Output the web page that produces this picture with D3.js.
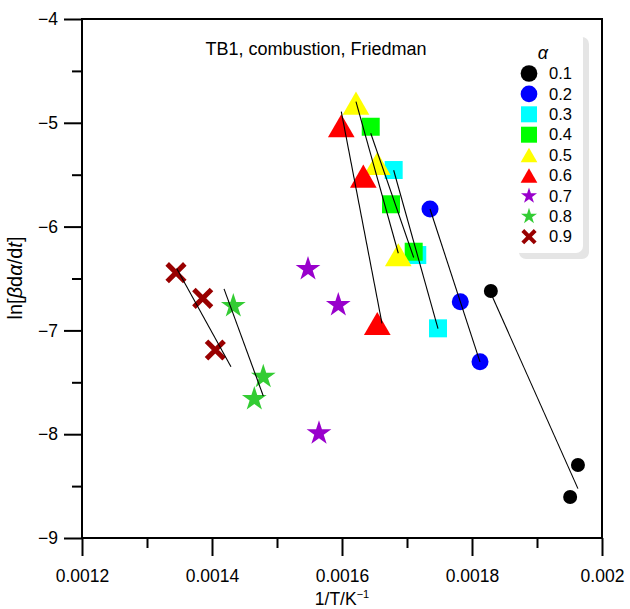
<!DOCTYPE html>
<html>
<head>
<meta charset="utf-8">
<script src="https://cdn.jsdelivr.net/npm/d3@7"></script>
<style>
  body { margin: 0; background: #fff; }
  svg { display: block; }
  text { font-family: "Liberation Sans", Arial, Helvetica, sans-serif; fill: #000; }
</style>
</head>
<body>
<svg id="chart" width="630" height="609"></svg>
<script>
// Conversion levels (alpha) and their Friedman points: 1/T (K^-1) vs ln[beta da/dt]
const alphaLevels = ["0.1", "0.2", "0.3", "0.4", "0.5", "0.6", "0.7", "0.8", "0.9"];
const invT = [
  [0.001829, 0.001963, 0.001951],
  [0.0017354, 0.001782, 0.0018123],
  [0.0016795, 0.0017158, 0.0017477],
  [0.0016442, 0.0016754, 0.0017103],
  [0.0016215, 0.0016543, 0.0016866],
  [0.0015989, 0.0016328, 0.0016543],
  [0.0015477, 0.0015943, 0.0015646],
  [0.0014328, 0.0014789, 0.0014651],
  [0.0013446, 0.0013857, 0.0014051]
];
const lnRate = [
  [-6.620, -8.297, -8.605],
  [-5.830, -6.724, -7.302],
  [-5.455, -6.274, -6.980],
  [-5.038, -5.785, -6.242],
  [-4.848, -5.429, -6.309],
  [-5.066, -5.551, -6.970],
  [-6.409, -6.755, -7.991],
  [-6.765, -7.446, -7.661],
  [-6.444, -6.691, -7.189]
];
// x-extent of each least-squares line (null: no fit drawn)
const fitRange = [
  [0.001829, 0.001963],
  [0.0017354, 0.0018123],
  [0.0016795, 0.0017477],
  [0.0016442, 0.0017103],
  [0.0016215, 0.0016866],
  [0.0015989, 0.0016615],
  null,
  [0.0014185, 0.0014789],
  [0.0013457, 0.0014292]
];
const seriesColors = ["#000000", "#0000ff", "#00ffff", "#00ff00", "#ffff00", "#ff0000", "#9900cc", "#33cc33", "#990000"];
const seriesShapes = ["circle", "circle", "square", "square", "triangle", "triangle", "star", "star", "times"];
const plotSizes = [154, 227, 324, 324, 308, 308, 190, 190, 204];
const legendSizes = [219, 219, 256, 256, 121, 121, 80, 80, 102];

const xMajor = [0.0012, 0.0014, 0.0016, 0.0018, 0.002];
const xMajorLabels = ["0.0012", "0.0014", "0.0016", "0.0018", "0.002"];
const xMinor = [0.0013, 0.0015, 0.0017, 0.0019];
const yMajor = [-9, -8, -7, -6, -5, -4];
const yMinor = [-8.5, -7.5, -6.5, -5.5, -4.5];

const symbolOf = { circle: d3.symbolCircle, square: d3.symbolSquare, triangle: d3.symbolTriangle, star: d3.symbolStar, times: d3.symbolTimes };

const svg = d3.select("#chart");
const plotL = 82, plotR = 602, plotT = 19, plotB = 538;
const x = d3.scaleLinear().domain([0.0012, 0.002]).range([plotL, plotR]);
const y = d3.scaleLinear().domain([-9, -4]).range([plotB, plotT]);

// axes
const fontSize = 17.5;
const xAxis = svg.append("g").attr("transform", `translate(0,${plotB})`)
  .call(d3.axisBottom(x).tickValues(xMajor).tickSize(18).tickPadding(14)
    .tickFormat((d, i) => xMajorLabels[i]));
const xMinorAxis = svg.append("g").attr("transform", `translate(0,${plotB})`)
  .call(d3.axisBottom(x).tickValues(xMinor).tickSize(10).tickFormat(""));
const yAxis = svg.append("g").attr("transform", `translate(${plotL},0)`)
  .call(d3.axisLeft(y).tickValues(yMajor).tickSize(18).tickPadding(6)
    .tickFormat(d => d3.format("d")(d)));
const yMinorAxis = svg.append("g").attr("transform", `translate(${plotL},0)`)
  .call(d3.axisLeft(y).tickValues(yMinor).tickSize(10).tickFormat(""));
[xAxis, xMinorAxis, yAxis, yMinorAxis].forEach(g => {
  g.attr("font-family", null).attr("font-size", null);
  g.select(".domain").remove();
  g.selectAll(".tick line").attr("stroke", "#000").attr("stroke-width", 2);
  g.selectAll(".tick text").attr("font-size", fontSize);
});

// frame
svg.append("rect").attr("x", plotL).attr("y", plotT)
  .attr("width", plotR - plotL).attr("height", plotB - plotT)
  .attr("fill", "none").attr("stroke", "#000").attr("stroke-width", 2);

// markers
const markerPath = (shape, size) => d3.symbol(symbolOf[shape], size)();
alphaLevels.forEach((a, s) => {
  const g = svg.append("g");
  invT[s].forEach((xv, i) => {
    const p = g.append("path")
      .attr("d", markerPath(seriesShapes[s], plotSizes[s]))
      .attr("transform", `translate(${x(xv)},${y(lnRate[s][i])})`);
    if (seriesShapes[s] === "times") {
      p.attr("fill", "none").attr("stroke", seriesColors[s]).attr("stroke-width", 5);
    } else {
      p.attr("fill", seriesColors[s]);
    }
  });
});

// least-squares lines
alphaLevels.forEach((a, s) => {
  if (!fitRange[s]) return;
  const xs = invT[s], ys = lnRate[s];
  const mx = d3.mean(xs), my = d3.mean(ys);
  const sxy = d3.sum(xs, (v, i) => (v - mx) * (ys[i] - my));
  const sxx = d3.sum(xs, v => (v - mx) * (v - mx));
  const slope = sxy / sxx;
  const ends = fitRange[s].map(v => [v, my + slope * (v - mx)]);
  svg.append("path")
    .attr("d", d3.line().x(d => x(d[0])).y(d => y(d[1]))(ends))
    .attr("fill", "none").attr("stroke", "#000").attr("stroke-width", 1.1);
});

// title
svg.append("text").attr("x", 316).attr("y", 55).attr("text-anchor", "middle")
  .attr("font-size", 18).text("TB1, combustion, Friedman");

// legend
const lg = svg.append("g");
lg.append("rect").attr("x", 519).attr("y", 37).attr("width", 70).attr("height", 222)
  .attr("rx", 7).attr("fill", "#e5e5e5");
lg.append("rect").attr("x", 513).attr("y", 31).attr("width", 70).attr("height", 222)
  .attr("rx", 7).attr("fill", "#fff");
lg.append("text").attr("x", 543).attr("y", 59).attr("text-anchor", "middle")
  .attr("font-size", 18).attr("font-style", "italic")
  .attr("font-family", "'Liberation Serif', 'DejaVu Serif', serif").text("α");
alphaLevels.forEach((a, s) => {
  const cy = 73.5 + s * 20.4;
  const shape = seriesShapes[s];
  const dy = shape === "triangle" ? Math.sqrt(legendSizes[s] / (Math.sqrt(3) * 3)) / 2 : 0;
  const p = lg.append("path").attr("d", markerPath(shape, legendSizes[s]))
    .attr("transform", `translate(529,${cy + dy})`);
  if (shape === "times") p.attr("fill", "none").attr("stroke", seriesColors[s]).attr("stroke-width", 4);
  else p.attr("fill", seriesColors[s]);
  lg.append("text").attr("x", 549).attr("y", cy).attr("dy", "0.35em")
    .attr("font-size", 16.5).text(a);
});

// axis titles
const xt = svg.append("text").attr("x", 342).attr("y", 605).attr("text-anchor", "middle")
  .attr("font-size", fontSize);
xt.append("tspan").text("1/T/K");
xt.append("tspan").attr("font-size", 11).attr("dy", -7).text("−1");

const yt = svg.append("text").attr("transform", "translate(22,278) rotate(-90)")
  .attr("text-anchor", "middle").attr("font-size", 20);
yt.append("tspan").text("ln[");
yt.append("tspan").attr("font-style", "italic").text("β");
yt.append("tspan").text("d");
yt.append("tspan").attr("font-style", "italic").text("α");
yt.append("tspan").text("/d");
yt.append("tspan").attr("font-style", "italic").text("t");
yt.append("tspan").text("]");
</script>
</body>
</html>
